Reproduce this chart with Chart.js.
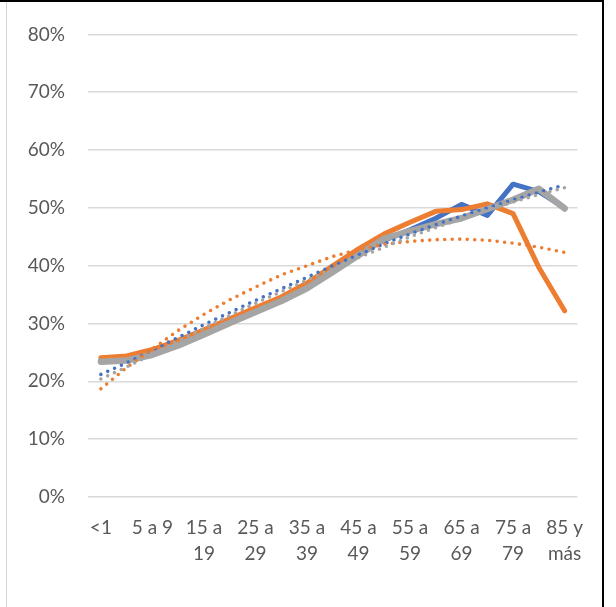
<!DOCTYPE html>
<html>
<head>
<meta charset="utf-8">
<script src="https://cdn.jsdelivr.net/npm/chart.js@4.4.1/dist/chart.umd.min.js"></script>
<style>
  html, body { margin: 0; padding: 0; background: #ffffff; }
  #wrap { position: relative; width: 616px; height: 607px; overflow: hidden; background: #ffffff; }
  #chart { position: absolute; left: 0; top: 0; }
  #frame {
    position: absolute; left: 6px; top: 0; width: 598px; height: 640px;
    border-top: 2px solid #000; border-right: 2px solid #000; border-left: 1px solid #d4d4d4;
    box-sizing: border-box; pointer-events: none;
  }
  #frameTop { position: absolute; left: 0; top: 0; width: 8px; height: 2px; background: #000; }
</style>
</head>
<body>
<div id="wrap">
  <canvas id="chart" width="616" height="607"></canvas>
  <div id="frame"></div>
  <div id="frameTop"></div>
</div>
<script>
// Age groups (every other one is labelled on the axis)
const categories = ['<1', '1 a 4', '5 a 9', '10 a 14', '15 a 19', '20 a 24', '25 a 29', '30 a 34',
  '35 a 39', '40 a 44', '45 a 49', '50 a 54', '55 a 59', '60 a 64', '65 a 69', '70 a 74',
  '75 a 79', '80 a 84', '85 y más'];

// Series values, in percent
const blueValues   = [23.7, 23.8, 24.9, 26.6, 28.4, 30.4, 32.3, 34.2, 36.5, 39.3, 42.2, 44.4, 46.2, 48.2, 50.6, 48.7, 54.1, 52.8, 50.0];
const orangeValues = [24.1, 24.4, 25.5, 27.1, 28.9, 30.8, 32.7, 34.6, 37.0, 40.0, 42.9, 45.5, 47.5, 49.4, 49.7, 50.7, 49.0, 39.7, 32.2];
const grayValues   = [23.4, 23.6, 24.6, 26.2, 28.1, 30.1, 32.0, 33.9, 36.1, 38.9, 41.8, 44.7, 46.0, 47.2, 48.2, 49.8, 51.4, 53.3, 49.9];

// Trend lines for each series, in percent
const blueTrend   = [21.2, 23.2, 25.4, 27.6, 29.8, 31.9, 34.0, 36.0, 38.0, 40.0, 41.9, 43.8, 45.5, 47.1, 48.6, 50.0, 51.4, 52.7, 54.0];
const orangeTrend = [18.7, 22.4, 25.6, 28.8, 31.6, 34.1, 36.3, 38.4, 40.0, 41.6, 42.8, 43.7, 44.2, 44.5, 44.6, 44.4, 43.9, 43.2, 42.3];
const grayTrend   = [20.4, 22.5, 24.7, 27.0, 29.2, 31.4, 33.5, 35.5, 37.5, 39.5, 41.4, 43.2, 45.0, 46.6, 48.1, 49.6, 51.0, 52.3, 53.5];

// Value axis ticks
const yTicks = [0, 10, 20, 30, 40, 50, 60, 70, 80];

const BLUE = '#4472C4', ORANGE = '#ED7D31', GRAY = '#A5A5A5';

function solid(label, data, color, width, order) {
  return {
    label, data, order,
    borderColor: color, backgroundColor: color,
    borderWidth: width, borderJoinStyle: 'round', borderCapStyle: 'round',
    pointRadius: 0, tension: 0, fill: false
  };
}
function dotted(label, data, color, order) {
  return {
    label, data, order,
    borderColor: color, backgroundColor: color,
    borderWidth: 3.6, borderCapStyle: 'round', borderDash: [0, 7.5],
    pointRadius: 0, tension: 0, fill: false
  };
}

// Two-line wrapping for the longer age labels
function wrapLabel(text) {
  if (text.length <= 5) return text;
  const cut = text.lastIndexOf(' ');
  return [text.slice(0, cut), text.slice(cut + 1)];
}

new Chart(document.getElementById('chart'), {
  type: 'line',
  data: {
    labels: categories,
    datasets: [
      solid('Serie 1', blueValues, BLUE, 5, 3),
      solid('Serie 2', orangeValues, ORANGE, 5, 2),
      solid('Serie 3', grayValues, GRAY, 6.5, 1),
      dotted('Tendencia Serie 1', blueTrend, BLUE, -1),
      dotted('Tendencia Serie 2', orangeTrend, ORANGE, -2),
      dotted('Tendencia Serie 3', grayTrend, GRAY, -3)
    ]
  },
  options: {
    responsive: false,
    devicePixelRatio: 1,
    animation: false,
    events: [],
    layout: { padding: { left: 10, right: 38.5, top: 33, bottom: 20 } },
    plugins: { legend: { display: false }, tooltip: { enabled: false } },
    scales: {
      x: {
        type: 'category',
        offset: true,
        grid: { display: false, drawTicks: false },
        border: { display: false },
        ticks: {
          autoSkip: false, maxRotation: 0, minRotation: 0,
          padding: 18,
          color: '#595959',
          font: { family: 'Lato', size: 19, lineHeight: 1.37 },
          callback: function (value, index) {
            return index % 2 === 0 ? wrapLabel(this.getLabelForValue(value)) : '';
          }
        },
        afterFit: function (scale) { scale.height = 90; }
      },
      y: {
        min: yTicks[0], max: yTicks[yTicks.length - 1],
        afterBuildTicks: function (scale) { scale.ticks = yTicks.map(v => ({ value: v })); },
        grid: { color: '#D9D9D9', lineWidth: 1.5, drawTicks: false },
        border: { display: false },
        ticks: {
          padding: 23,
          color: '#595959',
          font: { family: 'Lato', size: 19 },
          callback: v => v + '%'
        },
        afterFit: function (scale) { scale.width = 78; }
      }
    }
  }
});
</script>
</body>
</html>
